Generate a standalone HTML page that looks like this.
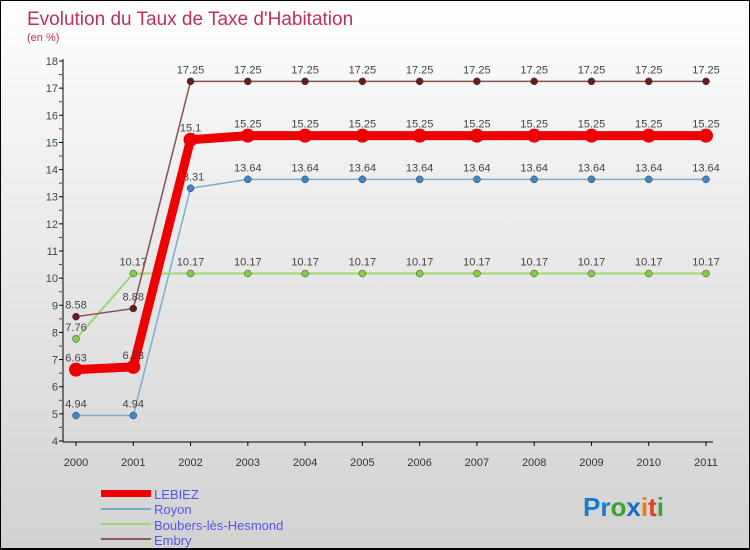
<!DOCTYPE html>
<html><head><meta charset="utf-8"><style>
body{margin:0}
#wrap{width:750px;height:550px;position:relative;box-sizing:border-box;border:1px solid #000;border-bottom:2px solid #000;background:linear-gradient(#ffffff,#f4f4f4 20%,#d2d2d2);font-family:"Liberation Sans",sans-serif;overflow:hidden}
svg text{font-family:"Liberation Sans",sans-serif}
</style></head><body>
<div id="wrap">
<svg id="svg" width="750" height="550">
<text x="26" y="24" font-size="19" fill="#c0305a">Evolution du Taux de Taxe d'Habitation</text>
<text x="26" y="40" font-size="11" fill="#c0305a">(en %)</text>
<g id="axes"></g><g id="series"></g>
<g>
<rect x="100" y="489" width="50" height="7" fill="#ee0000"/>
<text x="153" y="498" font-size="13" fill="#5555ee">LEBIEZ</text>
<rect x="100" y="507" width="50" height="2" fill="#7aaed0"/>
<text x="153" y="513" font-size="13" fill="#5555ee">Royon</text>
<rect x="100" y="522" width="50" height="2" fill="#9cd870"/>
<text x="153" y="529" font-size="13" fill="#5555ee">Boubers-lès-Hesmond</text>
<rect x="100" y="537" width="50" height="2" fill="#905858"/>
<text x="153" y="544" font-size="13" fill="#5555ee">Embry</text>
</g>
<g font-size="26" font-weight="bold">
<text x="582" y="515"><tspan fill="#1a7cc8">Pr</tspan><tspan fill="#3aa030">o</tspan><tspan fill="#1a6cc8">x</tspan><tspan fill="#f07a10">i</tspan><tspan fill="#e04020">t</tspan><tspan fill="#40a040">i</tspan></text>
</g>
</svg>
</div>
<script>
const years=[2000,2001,2002,2003,2004,2005,2006,2007,2008,2009,2010,2011];
const lebiez=[6.63,6.73,15.1,15.25,15.25,15.25,15.25,15.25,15.25,15.25,15.25,15.25];
const royon=[4.94,4.94,13.31,13.64,13.64,13.64,13.64,13.64,13.64,13.64,13.64,13.64];
const boubers=[7.76,10.17,10.17,10.17,10.17,10.17,10.17,10.17,10.17,10.17,10.17,10.17];
const embry=[8.58,8.88,17.25,17.25,17.25,17.25,17.25,17.25,17.25,17.25,17.25,17.25];
const yTicks=[4,5,6,7,8,9,10,11,12,13,14,15,16,17,18];
const NS="http://www.w3.org/2000/svg";
const xs=i=>75+i*(630/(years.length-1));
const ys=v=>440-(v-4)*(380/14);
function mk(tag,attrs,parent){const e=document.createElementNS(NS,tag);for(const k in attrs)e.setAttribute(k,attrs[k]);parent.appendChild(e);return e;}
const ax=document.getElementById('axes');
let l=mk('line',{x1:62,y1:58,x2:62,y2:441,stroke:'#000'},ax);


l=mk('line',{x1:62,y1:441,x2:712,y2:441,stroke:'#000'},ax);


yTicks.forEach((v,i)=>{
 const y=ys(v);
 mk('line',{x1:58,y1:y,x2:62,y2:y,stroke:'#000'},ax);
 if(i<yTicks.length-1)mk('line',{x1:58,y1:ys(v+0.5),x2:61,y2:ys(v+0.5),stroke:'#e00'},ax);
 const t=mk('text',{x:57,y:y+4,'text-anchor':'end','font-size':11,fill:'#444'},ax);
 t.textContent=v;
 
 
});
years.forEach((yr,i)=>{
 const x=xs(i);
 mk('line',{x1:x,y1:441,x2:x,y2:445,stroke:'#000'},ax);
 const t=mk('text',{x:x,y:465,'text-anchor':'middle','font-size':11,fill:'#333'},ax);
 t.textContent=yr;
 
 
});
const sg=document.getElementById('series');
function series(data,color,lw,r,fill,name){
 const g=mk('g',{},sg);
 
 
 const p=mk('polyline',{points:data.map((v,i)=>xs(i)+','+ys(v)).join(' '),fill:'none',stroke:color,'stroke-width':lw,'stroke-linejoin':'round'},g);
 
 
 data.forEach((v,i)=>{
  const c=mk('circle',{cx:xs(i),cy:ys(v),r:r,fill:fill,stroke:lw>5?'none':'#335',"stroke-width":0.5},g);
  
  
  const t=mk('text',{x:xs(i),y:ys(v)-8,'text-anchor':'middle','font-size':11,fill:'#444'},g);
  t.textContent=String(v);
  
  
 });
}
series(royon,'#7aaed0',1.5,3.5,'#3a8ac8','royon');
series(boubers,'#9cd870',2,3.5,'#80d040','boubers');
series(embry,'#8a5050',1.5,3.5,'#6a1c1c','embry');
series(lebiez,'#ee0000',9,7,'#ee0000','lebiez');
</script>
</body></html>
